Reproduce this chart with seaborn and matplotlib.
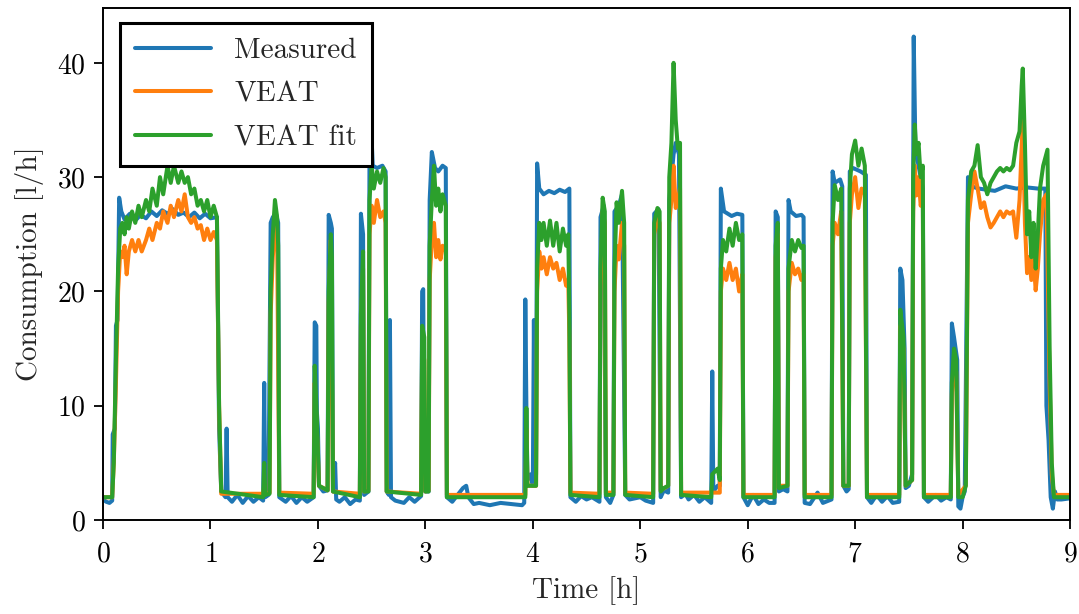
import numpy as np
import pandas as pd
import matplotlib
matplotlib.use("Agg")
import matplotlib.pyplot as plt
import seaborn as sns

# ---------------- data ----------------
measured_t = [0, 0.03, 0.06, 0.085, 0.09, 0.11, 0.12, 0.135, 0.15, 0.17, 0.2, 0.25, 0.3, 0.35, 0.4, 0.45, 0.5, 0.55, 0.6,
              0.65, 0.7, 0.75, 0.8, 0.85, 0.9, 0.95, 1.0, 1.06,
              1.08, 1.1, 1.14, 1.15, 1.16, 1.2, 1.25, 1.3, 1.35, 1.4, 1.45, 1.49, 1.50, 1.51, 1.54, 1.56, 1.58, 1.61, 1.63, 1.64,
              1.7, 1.75, 1.8, 1.85, 1.9, 1.96, 1.97, 1.985, 1.99, 2.0, 2.01, 2.05, 2.09, 2.10, 2.12, 2.13, 2.14, 2.16, 2.17,
              2.2, 2.25, 2.3, 2.35, 2.39, 2.40, 2.42, 2.43, 2.47, 2.48, 2.49, 2.51, 2.55, 2.6, 2.63, 2.64, 2.66, 2.67, 2.68,
              2.72, 2.8, 2.85, 2.9, 2.96, 2.97, 2.98, 2.99, 3.0, 3.03, 3.04, 3.06, 3.09, 3.12, 3.16, 3.19, 3.20, 3.25, 3.3,
              3.35, 3.38, 3.4, 3.45, 3.5, 3.6, 3.7, 3.8, 3.9, 3.92, 3.93, 3.94, 3.95, 3.98, 4.0, 4.01, 4.02, 4.03, 4.04, 4.06,
              4.1, 4.15, 4.2, 4.25, 4.3, 4.34, 4.35, 4.4, 4.45, 4.5, 4.55, 4.62, 4.63, 4.66, 4.68, 4.72, 4.75, 4.76, 4.80,
              4.83, 4.86, 4.9, 5.0, 5.05, 5.12, 5.13, 5.17, 5.19, 5.22, 5.26, 5.27, 5.31, 5.33, 5.36, 5.38, 5.42, 5.45, 5.5,
              5.55, 5.6, 5.66, 5.67, 5.68, 5.72, 5.74, 5.75, 5.78, 5.85, 5.9, 5.95, 5.96, 6.0, 6.05, 6.1, 6.15, 6.2, 6.25,
              6.26, 6.28, 6.29, 6.33, 6.37, 6.38, 6.4, 6.45, 6.5, 6.52, 6.53, 6.58, 6.65, 6.7, 6.78, 6.79, 6.81, 6.86, 6.88,
              6.89, 6.92, 6.94, 6.95, 6.98, 7.05, 7.1, 7.11, 7.15, 7.2, 7.25, 7.3, 7.35, 7.41, 7.42, 7.44, 7.46, 7.47, 7.5,
              7.53, 7.545, 7.56, 7.58, 7.61, 7.63, 7.64, 7.68, 7.75, 7.8, 7.85, 7.89, 7.90, 7.92, 7.95, 7.96, 7.98, 8.0, 8.02,
              8.05, 8.08, 8.15, 8.3, 8.4, 8.5, 8.6, 8.7, 8.77, 8.78, 8.8, 8.82, 8.84, 8.86, 8.88, 8.92, 9.0]
measured_v = [1.8, 1.6, 1.5, 1.7, 7.5, 8.0, 17.0, 17.5, 28.2, 27.0, 26.3, 26.8, 26.2, 26.7, 26.4, 27.0, 26.6, 27.1, 26.8,
              27.2, 26.7, 26.9, 26.5, 26.9, 26.4, 26.8, 26.4, 26.5,
              8.0, 2.5, 2.0, 8.0, 2.0, 1.6, 2.2, 1.5, 2.1, 1.6, 2.0, 1.7, 12.0, 2.0, 2.2, 26.0, 26.5, 26.8, 26.0, 2.0,
              1.6, 2.1, 1.5, 2.0, 1.6, 2.0, 17.3, 17.0, 9.5, 8.0, 3.0, 2.5, 2.6, 26.7, 26.0, 25.5, 2.5, 5.0, 1.8,
              1.6, 2.0, 1.4, 1.8, 1.7, 26.8, 25.0, 2.2, 2.5, 32.0, 35.5, 31.0, 30.8, 31.0, 30.5, 2.5, 2.2, 17.5, 2.0,
              1.7, 1.5, 2.0, 1.6, 2.1, 20.0, 20.2, 3.0, 2.5, 2.5, 28.0, 32.2, 30.8, 30.5, 31.0, 30.8, 2.0, 1.6, 2.2,
              2.8, 3.0, 2.0, 1.4, 1.5, 1.3, 1.5, 1.4, 1.3, 1.5, 19.3, 10.0, 3.5, 4.0, 3.0, 17.5, 3.0, 4.0, 31.2, 29.0,
              28.5, 28.8, 28.6, 28.9, 28.7, 29.0, 2.0, 1.6, 2.1, 1.8, 2.0, 1.6, 26.5, 27.5, 2.0, 1.5, 2.2, 27.0, 27.5,
              28.5, 2.2, 1.8, 2.0, 1.7, 1.5, 26.8, 27.2, 2.0, 2.6, 2.4, 28.0, 32.0, 33.0, 32.0, 2.0, 2.3, 1.8, 2.2,
              1.6, 2.0, 1.5, 13.0, 2.5, 3.0, 3.0, 29.0, 27.0, 26.6, 26.8, 26.7, 2.0, 1.3, 2.2, 1.4, 1.8, 1.5, 1.5,
              27.0, 26.5, 2.5, 2.7, 2.5, 28.0, 27.0, 26.6, 26.7, 26.5, 1.5, 1.4, 2.4, 1.5, 1.8, 30.5, 29.5, 29.8, 29.2,
              3.0, 2.5, 2.7, 30.5, 30.8, 30.5, 30.2, 2.0, 1.5, 2.2, 1.6, 2.1, 1.5, 1.6, 22.0, 21.0, 15.0, 2.8, 3.0,
              4.0, 42.3, 33.0, 31.5, 30.0, 29.0, 2.0, 1.6, 2.2, 1.7, 2.0, 1.8, 17.2, 16.0, 14.0, 1.2, 1.0, 2.0, 2.5,
              30.0, 29.2, 29.0, 28.8, 29.2, 29.0, 29.1, 29.0, 29.0, 10.0, 7.0, 2.0, 1.0, 2.5, 1.8, 1.8, 1.9]

veat_t = [0, 0.085, 0.10, 0.12, 0.14, 0.16, 0.18, 0.2, 0.22, 0.24, 0.27, 0.3, 0.33, 0.36, 0.4, 0.43, 0.46, 0.5, 0.53, 0.56,
          0.6, 0.63, 0.66, 0.7, 0.73, 0.76, 0.79, 0.82, 0.85, 0.88, 0.91, 0.94, 0.97, 1.0, 1.03, 1.06, 1.08, 1.10, 1.49,
          1.50, 1.51, 1.55, 1.56, 1.58, 1.60, 1.62, 1.64, 1.96, 1.97, 1.99, 2.01, 2.09, 2.10, 2.12, 2.14, 2.39, 2.40,
          2.42, 2.43, 2.47, 2.48, 2.50, 2.52, 2.55, 2.58, 2.61, 2.63, 2.64, 2.96, 2.97, 2.99, 3.0, 3.03, 3.04, 3.06,
          3.08, 3.10, 3.12, 3.14, 3.16, 3.19, 3.20, 3.93, 3.94, 3.95, 4.03, 4.04, 4.06, 4.08, 4.1, 4.13, 4.16, 4.19,
          4.22, 4.25, 4.28, 4.31, 4.33, 4.34, 4.35, 4.62, 4.63, 4.65, 4.67, 4.68, 4.75, 4.76, 4.78, 4.80, 4.83, 4.85,
          4.86, 5.12, 5.13, 5.16, 5.18, 5.19, 5.26, 5.27, 5.29, 5.31, 5.33, 5.35, 5.37, 5.38, 5.74, 5.75, 5.77, 5.80,
          5.83, 5.86, 5.89, 5.92, 5.95, 5.96, 6.25, 6.26, 6.28, 6.29, 6.37, 6.38, 6.41, 6.44, 6.47, 6.50, 6.52, 6.53,
          6.78, 6.79, 6.81, 6.84, 6.87, 6.89, 6.94, 6.95, 6.97, 7.0, 7.03, 7.06, 7.09, 7.11, 7.41, 7.42, 7.45, 7.47,
          7.53, 7.54, 7.555, 7.57, 7.59, 7.61, 7.63, 7.64, 7.89, 7.90, 7.92, 7.94, 7.96, 8.03, 8.05, 8.08, 8.11, 8.14,
          8.17, 8.2, 8.23, 8.26, 8.29, 8.32, 8.35, 8.38, 8.41, 8.44, 8.47, 8.5, 8.53, 8.56, 8.58, 8.6, 8.62, 8.64, 8.66,
          8.68, 8.70, 8.72, 8.75, 8.78, 8.81, 8.83, 8.85, 9.0]
veat_v = [2.0, 2.0, 5.0, 12.0, 20.0, 23.5, 23.0, 24.0, 21.5, 23.5, 24.5, 23.5, 24.5, 23.5, 24.5, 25.5, 24.5, 26.0, 25.5, 27.0,
          26.0, 27.5, 26.5, 28.0, 27.0, 28.5, 26.5, 26.0, 26.5, 25.5, 25.8, 24.5, 25.5, 24.5, 25.2, 24.5, 10.0, 2.3, 2.3,
          3.0, 2.3, 2.4, 18.0, 23.0, 26.0, 25.0, 2.4, 2.3, 12.0, 8.0, 3.0, 2.6, 19.0, 24.5, 2.5, 2.3, 17.0,
          22.0, 2.5, 2.6, 25.0, 27.5, 26.0, 28.0, 26.5, 27.0, 26.0, 2.5, 2.3, 15.0, 14.0, 2.5, 2.6, 21.0, 24.5,
          26.0, 23.0, 24.5, 22.8, 24.0, 23.5, 2.2, 2.2, 8.0, 3.0, 3.0, 20.0, 23.5, 22.0, 23.0, 21.5, 23.0, 22.0,
          22.5, 21.0, 22.0, 20.5, 21.0, 16.0, 2.4, 2.3, 20.0, 27.0, 26.0, 2.4, 2.4, 20.0, 24.0, 22.8, 26.0, 24.0,
          2.4, 2.3, 25.0, 26.5, 26.0, 2.6, 3.0, 26.0, 28.0, 31.0, 27.3, 28.0, 29.0, 2.4, 2.4, 20.0, 22.0, 21.0,
          22.5, 21.0, 22.0, 20.0, 21.5, 2.2, 2.2, 23.0, 25.0, 3.0, 3.0, 20.0, 22.5, 21.5, 22.0, 21.0, 21.5, 2.2,
          2.2, 24.0, 26.0, 25.0, 27.0, 3.0, 3.0, 26.0, 28.5, 30.0, 27.3, 29.0, 28.5, 2.2, 2.2, 17.0, 15.0, 3.0,
          3.5, 27.0, 31.0, 28.4, 30.0, 27.5, 28.5, 2.2, 2.2, 11.0, 14.0, 13.0, 2.2, 3.0, 26.0, 28.5, 30.5, 29.0,
          27.3, 27.8, 26.5, 25.6, 26.0, 26.5, 27.0, 26.5, 27.0, 26.8, 27.0, 24.7, 28.0, 35.0, 26.0, 21.6, 23.0, 21.0, 23.0,
          20.1, 22.0, 25.0, 28.0, 28.5, 12.0, 4.0, 2.2, 2.2]

fit_t = [0, 0.085, 0.10, 0.12, 0.14, 0.16, 0.18, 0.2, 0.22, 0.24, 0.27, 0.3, 0.33, 0.36, 0.4, 0.43, 0.46, 0.5, 0.53, 0.56,
         0.6, 0.63, 0.66, 0.7, 0.73, 0.76, 0.79, 0.82, 0.85, 0.88, 0.91, 0.94, 0.97, 1.0, 1.03, 1.06, 1.08, 1.10, 1.49,
         1.50, 1.51, 1.55, 1.56, 1.58, 1.60, 1.62, 1.63, 1.64, 1.96, 1.97, 1.99, 2.01, 2.09, 2.10, 2.12, 2.13, 2.14,
         2.39, 2.40, 2.42, 2.43, 2.47, 2.48, 2.50, 2.52, 2.55, 2.58, 2.61, 2.63, 2.64, 2.96, 2.97, 2.99, 3.0, 3.03,
         3.04, 3.06, 3.08, 3.10, 3.12, 3.14, 3.16, 3.19, 3.20, 3.93, 3.94, 3.95, 4.03, 4.04, 4.06, 4.08, 4.1, 4.13,
         4.16, 4.19, 4.22, 4.25, 4.28, 4.31, 4.33, 4.34, 4.35, 4.62, 4.63, 4.65, 4.67, 4.68, 4.75, 4.76, 4.78, 4.80,
         4.83, 4.85, 4.86, 5.12, 5.13, 5.16, 5.18, 5.19, 5.22, 5.26, 5.27, 5.29, 5.31, 5.33, 5.35, 5.37, 5.38, 5.66,
         5.67, 5.72, 5.74, 5.75, 5.77, 5.80, 5.83, 5.86, 5.89, 5.92, 5.95, 5.96, 6.25, 6.26, 6.28, 6.29, 6.37, 6.38,
         6.41, 6.44, 6.47, 6.50, 6.52, 6.53, 6.78, 6.79, 6.81, 6.84, 6.87, 6.89, 6.94, 6.95, 6.97, 7.0, 7.03, 7.06,
         7.09, 7.11, 7.41, 7.42, 7.45, 7.47, 7.53, 7.54, 7.555, 7.57, 7.59, 7.61, 7.63, 7.64, 7.89, 7.90, 7.92, 7.94,
         7.96, 8.0, 8.03, 8.05, 8.08, 8.11, 8.14, 8.17, 8.2, 8.23, 8.26, 8.29, 8.32, 8.35, 8.38, 8.41, 8.44, 8.47, 8.5,
         8.53, 8.55, 8.56, 8.58, 8.6, 8.62, 8.64, 8.66, 8.68, 8.70, 8.72, 8.75, 8.79, 8.81, 8.83, 8.85, 9.0]
fit_v = [2.0, 2.0, 5.0, 14.0, 22.0, 25.5, 26.0, 25.0, 26.5, 25.5, 27.0, 26.0, 27.5, 26.5, 28.0, 27.0, 29.0, 27.5, 30.0, 28.5,
         31.0, 29.5, 31.0, 29.5, 30.5, 29.5, 30.0, 28.5, 29.0, 27.5, 28.0, 27.0, 28.0, 26.5, 27.5, 26.5, 10.0, 2.5, 2.0,
         5.0, 2.2, 2.3, 20.0, 25.0, 28.0, 26.5, 24.0, 2.2, 2.0, 13.5, 9.0, 3.0, 2.6, 20.0, 25.0, 23.0, 2.5,
         2.0, 18.0, 23.5, 2.5, 2.5, 28.0, 31.0, 29.0, 30.5, 29.5, 30.8, 30.0, 2.5, 2.2, 17.0, 16.0, 2.5, 2.5,
         24.0, 28.0, 31.0, 27.5, 29.0, 27.0, 28.5, 27.5, 2.0, 2.0, 9.8, 3.0, 3.0, 22.0, 26.0, 24.5, 26.0, 24.0,
         26.2, 24.0, 26.0, 23.5, 25.5, 24.0, 25.0, 18.0, 2.2, 2.0, 22.0, 28.2, 27.0, 2.2, 2.2, 22.0, 27.8, 26.0,
         28.8, 26.0, 2.2, 2.0, 26.0, 27.3, 27.0, 2.5, 2.8, 3.0, 30.0, 33.0, 40.0, 35.0, 32.5, 33.0, 2.2, 2.0,
         4.0, 4.5, 3.5, 22.0, 24.5, 23.5, 25.5, 24.0, 26.0, 24.5, 25.0, 2.0, 2.0, 24.0, 26.0, 2.8, 3.0, 22.0,
         24.5, 23.5, 24.5, 23.8, 24.0, 2.0, 2.0, 26.0, 29.3, 28.0, 29.0, 3.0, 3.0, 29.0, 32.0, 33.2, 31.0, 32.5,
         31.0, 2.0, 2.0, 18.4, 16.0, 3.0, 3.5, 30.0, 34.6, 32.0, 33.0, 30.0, 31.0, 2.0, 2.0, 12.0, 15.0, 14.0,
         2.0, 2.0, 3.0, 28.0, 30.5, 31.0, 32.8, 30.0, 29.5, 28.5, 29.5, 30.0, 30.5, 30.8, 30.5, 30.8, 30.6, 31.0, 33.0,
         34.0, 38.0, 39.5, 33.0, 25.0, 27.0, 23.0, 26.0, 22.0, 25.0, 29.0, 31.0, 32.4, 15.0, 5.0, 2.0, 2.0]

series_names = ["Measured", "VEAT", "VEAT fit"]
series_colors = ["#1f77b4", "#ff7f0e", "#2ca02c"]
x_ticks = [0, 1, 2, 3, 4, 5, 6, 7, 8, 9]
y_ticks = [0, 10, 20, 30, 40]

# ---------------- style ----------------
sns.set_style("ticks")
plt.rcParams["font.family"] = ["cmr10", "DejaVu Serif"]
plt.rcParams["mathtext.fontset"] = "cm"
plt.rcParams["axes.formatter.use_mathtext"] = True
plt.rcParams["axes.unicode_minus"] = False

fig = plt.figure(figsize=(10.79, 6.14), dpi=100)
ax = fig.add_axes([0.0955, 0.153, 0.8962, 0.834])

for (tt, vv), name, col in zip([(measured_t, measured_v), (veat_t, veat_v), (fit_t, fit_v)],
                               series_names, series_colors):
    sns.lineplot(x=tt, y=vv, ax=ax, color=col, linewidth=2.9, label=name,
                 sort=False, estimator=None)

ax.set_xlim(0, 9)
ax.set_ylim(0, 44.8)
ax.set_xticks(x_ticks)
ax.set_yticks(y_ticks)
ax.set_xlabel("Time [h]", fontsize=21, labelpad=6)
ax.set_ylabel("Consumption [l/h]", fontsize=21, labelpad=9)
ax.tick_params(axis="x", pad=9)
ax.tick_params(axis="y", pad=6)
ax.tick_params(axis="both", labelsize=20, direction="out", length=6.5, width=1.3, colors="black")
for s in ax.spines.values():
    s.set_visible(True)
    s.set_color("black")
    s.set_linewidth(1.4)

leg = ax.legend(loc="upper left", fontsize=21, frameon=True, fancybox=False, framealpha=1,
                edgecolor="black", handlelength=2.6, handletextpad=0.8, borderpad=0.5,
                labelspacing=0.58, borderaxespad=0, bbox_to_anchor=(0.018, 0.97))
leg.get_frame().set_linewidth(2.2)
for h in leg.get_lines():
    h.set_linewidth(2.9)

fig.savefig("out.png", dpi=100)
